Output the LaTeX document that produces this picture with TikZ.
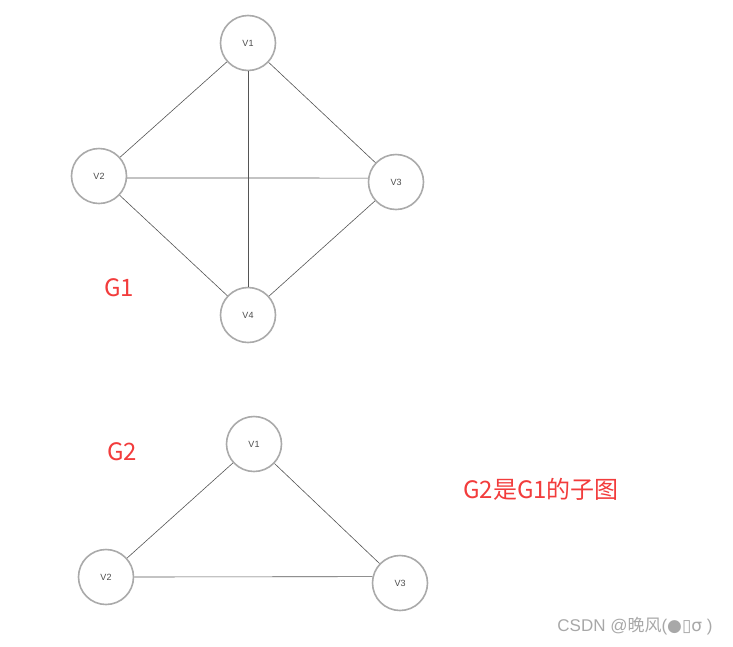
\documentclass[tikz,border=0pt]{standalone}
\usepackage{fontspec}
\setmainfont{Liberation Sans}
\newfontfamily\cjk{Noto Sans CJK SC}
\newfontfamily\dejavu{DejaVu Sans}
\definecolor{ringgray}{HTML}{AAAAAA}
\definecolor{edgegray}{HTML}{555555}
\definecolor{labelred}{HTML}{F23C3C}
\definecolor{wmgray}{HTML}{A8A8A8}
\begin{document}
\begin{tikzpicture}[x=1pt,y=-1pt,
  vtx/.style={circle,draw=ringgray,line width=1.6pt,fill=white,minimum size=55pt,inner sep=0pt,font=\fontsize{9}{10}\selectfont,text=black!70},
  edge/.style={draw=edgegray,line width=0.6pt},
  glabel/.style={text=labelred,font=\cjk\fontsize{24}{28}\selectfont}]
\useasboundingbox (0,0) rectangle (733,646);
% G1
\node[vtx] (a1) at (248,43) {V1};
\node[vtx] (a2) at (99,176) {V2};
\node[vtx] (a3) at (396,182) {V3};
\node[vtx] (a4) at (248,315) {V4};
\draw[edge] (a1) -- (a2);
\draw[edge] (a1) -- (a3);
\draw[edge] (a1) -- (a4);
\draw[edge] (a2.-4) -- (a3.172);
\draw[edge] (a2) -- (a4);
\draw[edge] (a3) -- (a4);
\node[glabel] (g1) at (119,288) {G1};
% G2
\node[vtx] (b1) at (254,444) {V1};
\node[vtx] (b2) at (106,577) {V2};
\node[vtx] (b3) at (400,583) {V3};
\draw[edge] (b1) -- (b2);
\draw[edge] (b1) -- (b3);
\draw[edge] (b2.east) -- (b3.167);
\node[glabel] (g2) at (122,452) {G2};
\node[glabel] (note) at (541,489) {G2是G1的子图};
% watermark
\node[text=wmgray,font=\fontsize{17}{20}\selectfont] (wm) at (635,626) {CSDN @{\cjk 晚风}({\dejavu ●▯σ} )};
\end{tikzpicture}
\end{document}
